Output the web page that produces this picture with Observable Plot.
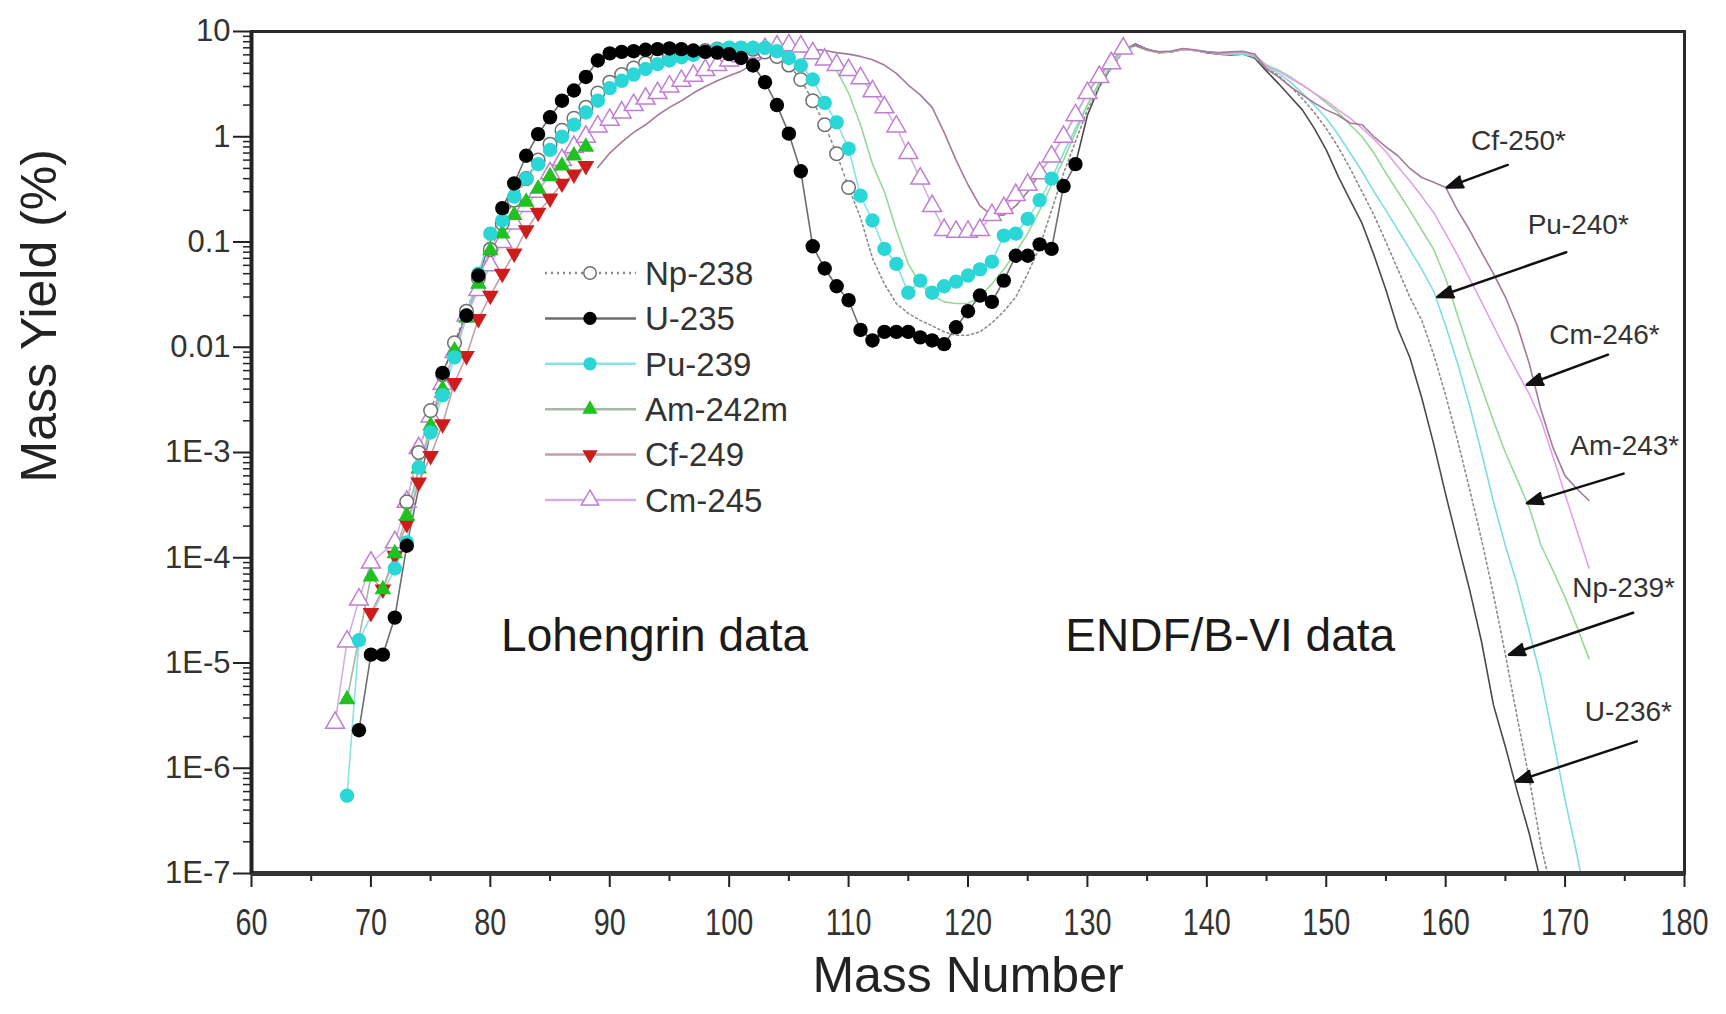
<!DOCTYPE html>
<html><head><meta charset="utf-8">
<script src="https://cdn.jsdelivr.net/npm/d3@7"></script>
<script src="https://cdn.jsdelivr.net/npm/@observablehq/plot@0.6"></script>
<style>
html,body{margin:0;padding:0;background:#fff;}
#wrap{position:relative;width:1726px;height:1014px;overflow:hidden;background:#fff;}
</style></head>
<body><div id="wrap"></div>
<script>
// ---------- axis ticks ----------
const xTicks = [60,70,80,90,100,110,120,130,140,150,160,170,180];
const xMinorTicks = [65,75,85,95,105,115,125,135,145,155,165,175];
const yTicks = [1e-7,1e-6,1e-5,1e-4,1e-3,0.01,0.1,1,10];
const yTickLabels = ["1E-7","1E-6","1E-5","1E-4","1E-3","0.01","0.1","1","10"];

// ---------- Lohengrin data (markers) ----------
const np238A = [73,74,75,76,77,78,79,80,81,82,83,84,85,86,87,88,89,90,91,92,93,94,95,96,97,98,99,100,101,102,103,104,105,106,107,108,109,110];
const np238Y = [3.4e-4,1.0e-3,2.5e-3,5.5e-3,0.011,0.022,0.045,0.085,0.15,0.25,0.4,0.6,0.85,1.15,1.5,1.9,2.6,3.3,3.9,4.5,5.0,5.4,5.8,6.1,6.4,6.6,6.8,6.9,6.9,6.8,6.4,5.8,4.8,3.5,2.2,1.3,0.69,0.33];

const u235A = [69,70,71,72,73,76,78,79,81,82,83,84,85,86,87,88,89,90,91,92,93,94,95,96,97,98,99,100,101,102,103,104,105,106,107,108,109,110,111,112,113,114,115,116,117,118,119,120,121,122,123,124,125,126,127,128,129];
const u235Y = [2.3e-6,1.2e-5,1.2e-5,2.7e-5,1.3e-4,5.7e-3,0.02,0.048,0.21,0.36,0.66,1.06,1.53,2.2,2.75,3.7,5.3,6.2,6.4,6.5,6.7,6.8,6.9,6.8,6.6,6.4,6.3,6.1,5.6,4.75,3.3,2.0,1.07,0.47,0.091,0.056,0.038,0.028,0.0146,0.0116,0.014,0.014,0.014,0.0124,0.0116,0.0107,0.0155,0.022,0.031,0.027,0.043,0.074,0.074,0.095,0.086,0.34,0.55];

const pu239A = [68,69,72,73,74,75,76,77,78,79,80,81,82,83,84,85,86,87,88,89,90,91,92,93,94,95,96,97,98,99,100,101,102,103,104,105,106,107,108,109,110,111,112,113,114,115,116,117,118,119,120,121,122,123,124,125,126,127];
const pu239Y = [5.5e-7,1.65e-5,7.9e-5,1.4e-4,7.2e-4,1.55e-3,3.5e-3,8e-3,0.02,0.05,0.12,0.16,0.27,0.4,0.55,0.75,1.0,1.3,1.7,2.2,2.9,3.4,3.9,4.4,4.9,5.3,5.7,6.0,6.4,6.8,7.0,7.0,7.0,7.0,6.5,5.6,4.75,3.5,2.1,1.37,0.77,0.275,0.16,0.086,0.062,0.033,0.043,0.033,0.038,0.042,0.048,0.055,0.065,0.115,0.12,0.166,0.25,0.4];

const am242mA = [68,70,71,72,73,74,75,76,77,78,79,80,81,82,83,84,85,86,87,88];
const am242mY = [4.5e-6,6.6e-5,5e-5,1.1e-4,2.5e-4,7e-4,1.8e-3,4e-3,9.3e-3,0.019,0.04,0.083,0.12,0.18,0.24,0.32,0.42,0.53,0.66,0.8];

const cf249A = [70,71,72,73,74,75,76,77,78,79,80,81,82,83,84,85,86,87,88];
const cf249Y = [3e-5,5e-5,1.05e-4,2.1e-4,5.2e-4,9.3e-4,1.86e-3,4.6e-3,8.3e-3,0.0186,0.031,0.05,0.078,0.13,0.19,0.26,0.36,0.44,0.53];

const cm245A = [67,68,69,70,72,73,74,75,76,77,78,79,80,81,82,83,84,85,86,87,88,89,90,91,92,93,94,95,96,97,98,99,100,101,102,103,104,105,106,107,108,109,110,111,112,113,114,115,116,117,118,119,120,121,122,123,124,125,126,127,128,129,130,131,132,133];
const cm245Y = [2.7e-6,1.6e-5,4e-5,9e-5,1.4e-4,3.4e-4,1.1e-3,2.2e-3,4.5e-3,9e-3,0.02,0.035,0.06,0.1,0.15,0.22,0.3,0.45,0.6,0.8,1.0,1.25,1.45,1.7,2.0,2.3,2.6,3.0,3.4,3.8,4.3,4.8,5.3,5.8,6.3,6.8,7.2,7.4,7.2,6.2,5.4,4.8,4.3,3.6,2.7,1.9,1.25,0.7,0.4,0.22,0.13,0.125,0.125,0.13,0.18,0.21,0.28,0.35,0.45,0.65,1.0,1.6,2.6,3.7,5.0,6.9];

// ---------- ENDF/B-VI data (lines) ----------
const u236A = [129,130,131,132,133,134,135,136,137,138,139,140,141,142,143,144,145,146,147,148,149,150,151,152,153,154,155,156,157,158,159,160,161,162,163,164,165,166,167,168];
const u236Y = [0.55,1.6,3.0,4.6,6.5,7.6,6.8,6.3,6.4,6.8,6.6,6.3,6.1,6.0,6.1,5.6,4.2,3.2,2.4,1.8,1.2,0.75,0.42,0.25,0.15,0.075,0.035,0.015,0.008,0.0033,0.0012,4e-4,1.4e-4,5e-5,1.6e-5,4e-6,1.6e-6,6e-7,2.4e-7,8e-8];

const np239A = [110,111,112,113,114,115,116,117,118,119,120,121,122,123,124,125,126,127,128,129,130,131,132,133,134,135,136,137,138,139,140,141,142,143,144,145,146,147,148,149,150,151,152,153,154,155,156,157,158,159,160,161,162,163,164,165,166,167,168,169];
const np239Y = [0.33,0.17,0.07,0.04,0.026,0.021,0.018,0.016,0.014,0.013,0.013,0.014,0.017,0.022,0.03,0.05,0.09,0.2,0.45,0.9,1.8,3.0,4.5,6.4,7.4,6.7,6.3,6.4,6.7,6.6,6.3,6.1,6.0,6.1,5.7,4.5,3.8,3.0,2.3,1.7,1.2,0.8,0.5,0.3,0.18,0.1,0.055,0.03,0.018,0.0085,0.0035,0.0013,4.5e-4,1.5e-4,4.5e-5,1.2e-5,3e-6,8e-7,1.8e-7,6e-8];

const pu240A = [127,128,129,130,131,132,133,134,135,136,137,138,139,140,141,142,143,144,145,146,147,148,149,150,151,152,153,154,155,156,157,158,159,160,161,162,163,164,165,166,167,168,169,170,171,172];
const pu240Y = [0.4,0.7,1.2,2.0,3.2,4.7,6.5,7.4,6.7,6.4,6.5,6.8,6.6,6.4,6.2,6.1,6.1,5.8,4.6,4.0,3.3,2.6,2.0,1.5,1.05,0.7,0.47,0.3,0.2,0.13,0.085,0.055,0.034,0.016,7e-3,2.8e-3,1e-3,3.4e-4,1.3e-4,5.5e-5,2e-5,7e-6,1.9e-6,5e-7,1.5e-7,4e-8];

const am243A = [104,105,106,107,108,109,110,111,112,113,114,115,116,117,118,119,120,121,122,123,124,125,126,127,128,129,130,131,132,133,134,135,136,137,138,139,140,141,142,143,144,145,146,147,148,149,150,151,152,153,154,155,156,157,158,159,160,161,162,163,164,165,166,167,168,169,170,171,172];
const am243Y = [7.0,6.8,6.5,6.0,5.3,4.3,2.6,1.3,0.55,0.3,0.13,0.062,0.04,0.031,0.027,0.026,0.026,0.03,0.04,0.055,0.08,0.12,0.2,0.35,0.6,1.1,2.0,3.3,4.8,6.5,7.3,6.6,6.3,6.4,6.7,6.6,6.4,6.2,6.1,6.2,5.9,4.8,4.3,3.7,3.1,2.6,2.1,1.7,1.3,1.0,0.7,0.45,0.3,0.2,0.13,0.085,0.045,0.02,0.009,0.0042,2e-3,1e-3,5.5e-4,3e-4,1.3e-4,7.5e-5,4.2e-5,2.2e-5,1.1e-5];

const cm246A = [133,134,135,136,137,138,139,140,141,142,143,144,145,146,147,148,149,150,151,152,153,154,155,156,157,158,159,160,161,162,163,164,165,166,167,168,169,170,171,172];
const cm246Y = [6.9,7.4,6.7,6.4,6.5,6.8,6.6,6.4,6.2,6.2,6.3,6.0,4.7,4.2,3.6,3.1,2.6,2.2,1.8,1.5,1.2,0.95,0.72,0.52,0.38,0.27,0.19,0.12,0.075,0.045,0.027,0.016,0.0095,0.0058,0.0036,0.002,9e-4,4e-4,1.8e-4,8e-5];

const cf250A = [89,90,91,92,93,94,95,96,97,98,99,100,101,102,103,104,105,106,107,108,109,110,111,112,113,114,115,116,117,118,119,120,121,122,123,124,125,126,127,128,129,130,131,132,133,134,135,136,137,138,139,140,141,142,143,144,145,146,147,148,149,150,151,152,153,154,155,156,157,158,159,160,161,162,163,164,165,166,167,168,169,170,171,172];
const cf250Y = [0.51,0.7,0.89,1.1,1.3,1.6,1.9,2.2,2.6,3.0,3.4,3.8,4.2,4.9,5.8,6.5,6.9,7.0,6.8,6.6,6.3,6.1,5.8,5.4,4.8,4.0,3.1,2.5,1.9,1.1,0.6,0.35,0.22,0.18,0.18,0.22,0.3,0.45,0.65,1.0,1.6,2.6,3.8,5.2,6.9,7.4,6.7,6.4,6.5,6.9,6.7,6.4,6.3,6.4,6.5,6.1,4.4,3.7,3.0,2.5,2.1,1.8,1.6,1.35,1.3,1.0,0.8,0.66,0.5,0.41,0.37,0.33,0.2,0.13,0.08,0.05,0.03,0.016,0.007,0.0025,0.0011,6e-4,4.5e-4,3.5e-4];

// ---------- annotations ----------
const regionLabels = ["Lohengrin data", "ENDF/B-VI data"];
const regionA = [93.75, 141.96];
const regionY = [1.8e-5, 1.8e-5];

const endfLabels = ["Cf-250*","Pu-240*","Cm-246*","Am-243*","Np-239*","U-236*"];
const endfLabelA = [166.1, 171.1, 173.3, 175.0, 174.9, 175.3];
const endfLabelY = [0.91, 0.145, 0.013, 1.15e-3, 5.2e-5, 3.4e-6];
const arrowFromA = [165.2, 170.1, 173.6, 174.9, 175.7, 176.0];
const arrowFromY = [0.54, 0.08, 8.5e-3, 6.3e-4, 3e-5, 1.8e-6];
const arrowToA = [160.1, 159.3, 166.8, 166.8, 165.3, 165.9];
const arrowToY = [0.33, 0.03, 4.4e-3, 3.3e-4, 1.2e-5, 7.5e-7];

// ---------- styles ----------
const triDown = {
  draw(ctx, size) {
    const s3 = Math.sqrt(3);
    const y = -Math.sqrt(size / (s3 * 3));
    ctx.moveTo(0, -y * 2);
    ctx.lineTo(-s3 * y, y);
    ctx.lineTo(s3 * y, y);
    ctx.closePath();
  }
};
const rows = (A, Y) => A.map((a, i) => ({A: a, Y: Y[i]}));

const lohengrin = [
  {name: "Np-238", A: np238A, Y: np238Y, line: "#8a8a8a", dash: "2,4", symbol: d3.symbolCircle, fill: "white", stroke: "#707070", r: 6.8},
  {name: "U-235", A: u235A, Y: u235Y, line: "#6e6e6e", dash: null, symbol: d3.symbolCircle, fill: "#000", stroke: "none", r: 7.2},
  {name: "Pu-239", A: pu239A, Y: pu239Y, line: "#86e4e4", dash: null, symbol: d3.symbolCircle, fill: "#2ad6d6", stroke: "none", r: 7.2},
  {name: "Am-242m", A: am242mA, Y: am242mY, line: "#a8b8a8", dash: null, symbol: d3.symbolTriangle, fill: "#1fc21f", stroke: "none", r: 6.2},
  {name: "Cf-249", A: cf249A, Y: cf249Y, line: "#c89ea8", dash: null, symbol: triDown, fill: "#cc1c1c", stroke: "none", r: 6.2},
  {name: "Cm-245", A: cm245A, Y: cm245Y, line: "#d4b0e0", dash: null, symbol: d3.symbolTriangle, fill: "white", stroke: "#c07ed2", r: 7}
];
const endf = [
  {A: u236A, Y: u236Y, stroke: "#4a4a4a", dash: null, w: 1.6},
  {A: np239A, Y: np239Y, stroke: "#8c8c8c", dash: "2,3", w: 1.6},
  {A: pu240A, Y: pu240Y, stroke: "#7fdede", dash: null, w: 1.6},
  {A: am243A, Y: am243Y, stroke: "#98d898", dash: null, w: 1.6},
  {A: cm246A, Y: cm246Y, stroke: "#e2a2e6", dash: null, w: 1.6},
  {A: cf250A, Y: cf250Y, stroke: "#a67a98", dash: null, w: 1.6}
];

const yMinor = [];
for (let e = -7; e <= 0; e++) for (let k = 2; k <= 9; k++) yMinor.push(+(k + "e" + e));

const FONT = "'Liberation Sans', Arial, Helvetica, sans-serif";

const marks = [];
endf.forEach(s => marks.push(Plot.line(rows(s.A, s.Y), {x: "A", y: "Y", stroke: s.stroke, strokeWidth: s.w, strokeDasharray: s.dash, clip: true})));
lohengrin.forEach(s => marks.push(Plot.line(rows(s.A, s.Y), {x: "A", y: "Y", stroke: s.line, strokeWidth: 1.6, strokeDasharray: s.dash, clip: true})));
["Cm-245","Np-238","Cf-249","Am-242m","Pu-239","U-235"].forEach(n => {
  const s = lohengrin.find(d => d.name === n);
  marks.push(Plot.dot(rows(s.A, s.Y), {x: "A", y: "Y", r: s.r, symbol: s.symbol, fill: s.fill, stroke: s.stroke, strokeWidth: 1.5, clip: true}));
});
marks.push(
  Plot.axisY({ticks: yMinor, tickSize: 8, tickFormat: () => "", label: null, strokeWidth: 1.5, stroke: "#222"}),
  Plot.axisY({ticks: yTicks, tickSize: 18, tickPadding: 3, tickFormat: d => yTickLabels[yTicks.indexOf(d)], label: null, fontSize: 31, strokeWidth: 2, stroke: "#222", fill: "#333"}),
  Plot.axisX({ticks: xMinorTicks, tickSize: 8, tickFormat: () => "", label: null, strokeWidth: 2, stroke: "#222"}),
  Plot.axisX({ticks: xTicks, tickSize: 14, tickPadding: 22, label: null, fontSize: 36, strokeWidth: 2, stroke: "#222", fill: "#333"}),
  Plot.frame({stroke: "#2a2a2a", strokeWidth: 3}),
  Plot.ruleY([1e-7], {stroke: "#333", strokeWidth: 5}),
  Plot.ruleX([60], {stroke: "#222", strokeWidth: 4}),
  Plot.text(regionLabels, {x: regionA, y: regionY, text: d => d, fontSize: 46, fill: "#1a1a1a"}),
  Plot.text(endfLabels, {x: endfLabelA, y: endfLabelY, text: d => d, fontSize: 28, fill: "#333"}),
  Plot.arrow(endfLabels, {x1: arrowFromA, y1: arrowFromY, x2: arrowToA, y2: arrowToY, stroke: "#111", strokeWidth: 2.5, headLength: 10, headAngle: 40}),
  Plot.text(["Mass Yield (%)"], {text: d => d, frameAnchor: "left", dx: -212, dy: 30, rotate: -90, fontSize: 50, fill: "#222"}),
  Plot.text(["Mass Number"], {text: d => d, frameAnchor: "bottom", dy: 118, fontSize: 50, fill: "#222"})
);

const chart = Plot.plot({
  width: 1726, height: 1014,
  marginLeft: 251, marginRight: 42, marginTop: 31, marginBottom: 141,
  style: {fontFamily: FONT, background: "white", color: "#222", overflow: "visible"},
  x: {domain: [60, 180], label: null},
  y: {type: "log", domain: [1e-7, 10], label: null},
  marks
});
const wrap = document.getElementById("wrap");
wrap.appendChild(chart);

chart.querySelectorAll('g[aria-label="x-axis tick label"] text').forEach(t => {
  const len = t.getComputedTextLength();
  if (len > 0) { t.setAttribute("textLength", (len * 0.8).toFixed(1)); t.setAttribute("lengthAdjust", "spacingAndGlyphs"); }
});
chart.querySelectorAll('g[aria-label="arrow"] path').forEach(p => {
  const n = (p.getAttribute("d").match(/-?\d*\.?\d+(?:e[-+]?\d+)?/gi) || []).map(Number);
  if (n.length >= 6) {
    const k = n.length;
    const pts = [[n[k-6], n[k-5]], [n[k-4], n[k-3]], [n[k-2], n[k-1]]];
    const poly = document.createElementNS("http://www.w3.org/2000/svg", "polygon");
    poly.setAttribute("points", pts.map(q => q.join(",")).join(" "));
    poly.setAttribute("fill", "#111");
    poly.setAttribute("stroke", "#111");
    poly.setAttribute("stroke-width", "1.5");
    p.parentNode.appendChild(poly);
  }
});

// ---------- legend (inside the plot area) ----------
const legendOrder = ["Np-238","U-235","Pu-239","Am-242m","Cf-249","Cm-245"];
const leg = d3.select(wrap).append("svg")
  .attr("width", 1726).attr("height", 1014)
  .style("position", "absolute").style("left", "0px").style("top", "0px");
legendOrder.forEach((name, i) => {
  const s = lohengrin.find(d => d.name === name);
  const y = 273 + i * 45.4;
  const g = leg.append("g");
  g.append("line").attr("x1", 545).attr("x2", 636).attr("y1", y).attr("y2", y)
    .attr("stroke", s.line).attr("stroke-width", 2.5).attr("stroke-dasharray", s.dash);
  g.append("path").attr("d", d3.symbol(s.symbol, Math.PI * s.r * s.r * 0.85)())
    .attr("transform", `translate(590,${y})`)
    .attr("fill", s.fill).attr("stroke", s.stroke).attr("stroke-width", 1.5);
  g.append("text").attr("x", 645).attr("y", y).attr("dy", "0.36em")
    .attr("font-family", FONT).attr("font-size", 33).attr("fill", "#333").text(name);
});
</script>
</body></html>
